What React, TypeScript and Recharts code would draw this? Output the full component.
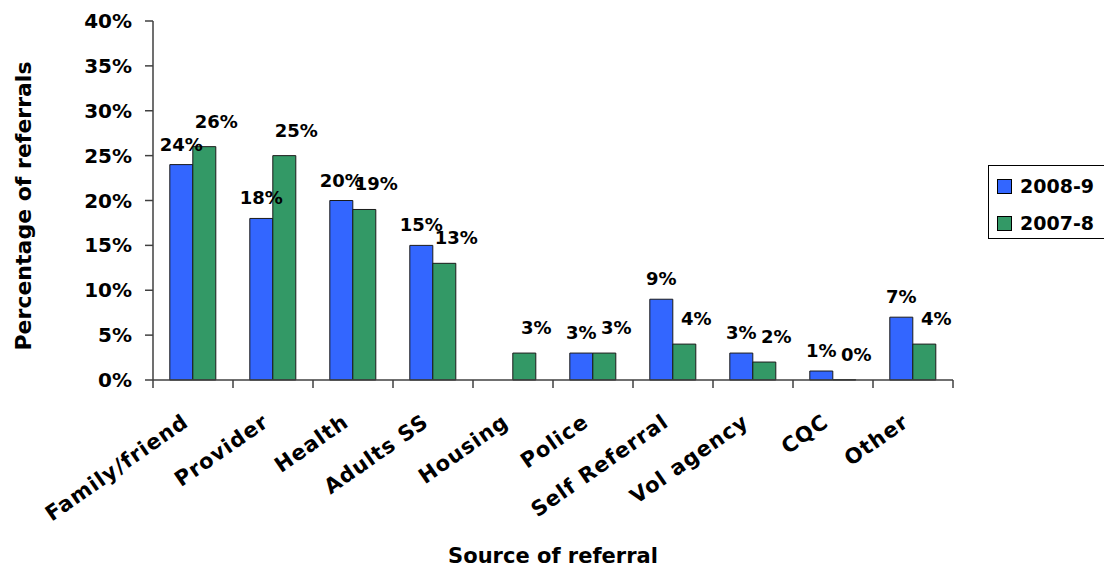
import React from "react";
import {
  BarChart, Bar, XAxis, YAxis, Legend, LabelList, Label
} from "recharts";

const categories = [
  "Family/friend", "Provider", "Health", "Adults SS", "Housing",
  "Police", "Self Referral", "Vol agency", "CQC", "Other",
];
const referrals2008_9: (number | null)[] = [24, 18, 20, 15, null, 3, 9, 3, 1, 7];
const referrals2007_8: (number | null)[] = [26, 25, 19, 13, 3, 3, 4, 2, 0, 4];
const yTicks = [0, 5, 10, 15, 20, 25, 30, 35, 40];

const SERIES = [
  { key: "y2008", name: "2008-9", color: "#3366FF" },
  { key: "y2007", name: "2007-8", color: "#339966" },
];

const data = categories.map((name, i) => ({
  name,
  y2008: referrals2008_9[i],
  y2007: referrals2007_8[i],
}));

const FONT = "'DejaVu Sans', Arial, sans-serif";
const AXIS = "#404040";

// category label plus the tick marks that sit on the category boundaries
const CategoryTick = ({ x, y, payload, index }: any) => {
  const half = payload.offset || 0;
  const tx = x - 3;
  const ty = y + 45;
  return (
    <g>
      <line x1={x - half} x2={x - half} y1={y} y2={y + 8} stroke={AXIS} strokeWidth={1.5} />
      {index === categories.length - 1 && (
        <line x1={x + half} x2={x + half} y1={y} y2={y + 8} stroke={AXIS} strokeWidth={1.5} />
      )}
      <text
        x={tx}
        y={ty}
        transform={`rotate(-35, ${tx}, ${ty})`}
        textAnchor="end"
        fontFamily={FONT}
        fontWeight="bold"
        fontSize={21}
        letterSpacing={1}
        fill="#000"
      >
        {payload.value}
      </text>
    </g>
  );
};

// value labels sit above the bar; the second series is nudged right and up
const valueLabel = (dx: number, lift: number) => (props: any) => {
  const { x, y, width, value } = props;
  if (value == null) return null;
  return (
    <text
      x={x + width / 2 + dx}
      y={y - lift}
      textAnchor="middle"
      fontFamily={FONT}
      fontWeight="bold"
      fontSize={18}
      fill="#000"
    >
      {`${value}%`}
    </text>
  );
};

const LegendBox = () => (
  <div
    style={{
      border: "1px solid #000",
      padding: "9px 0 4px 8px",
      width: 130,
      background: "#fff",
      fontFamily: FONT,
      fontWeight: "bold",
      fontSize: 19,
      lineHeight: "22px",
    }}
  >
    {SERIES.map((s, i) => (
      <div
        key={s.key}
        style={{ display: "flex", alignItems: "center", marginBottom: i === 0 ? 15 : 0 }}
      >
        <span
          style={{
            width: 13, height: 13, background: s.color,
            border: "1px solid #000", marginRight: 8, display: "inline-block",
          }}
        />
        {s.name}
      </div>
    ))}
  </div>
);

export default function App() {
  return (
    <div style={{ position: "absolute", left: 0, top: 0, background: "#fff" }}>
      <BarChart
        width={1104}
        height={568}
        data={data}
        margin={{ top: 21, right: 151, left: 0, bottom: 0 }}
        barCategoryGap="21%"
        barGap={0}
      >
        <XAxis
          dataKey="name"
          height={188}
          interval={0}
          tickSize={0}
          tickMargin={0}
          tickLine={false}
          axisLine={{ stroke: AXIS, strokeWidth: 1.5 }}
          tick={<CategoryTick />}
        >
          <Label
            content={() => (
              <text
                x={553}
                y={563}
                textAnchor="middle"
                fontFamily={FONT}
                fontWeight="bold"
                fontSize={21}
                fill="#000"
              >
                Source of referral
              </text>
            )}
          />
        </XAxis>
        <YAxis
          width={153}
          domain={[0, 40]}
          ticks={yTicks}
          interval={0}
          tickFormatter={(v) => `${v}%`}
          tickSize={8}
          tickMargin={13}
          axisLine={{ stroke: AXIS, strokeWidth: 1.5 }}
          tickLine={{ stroke: AXIS, strokeWidth: 1.5 }}
          tick={{ fontFamily: FONT, fontWeight: "bold", fontSize: 20, fill: "#000" }}
        >
          <Label
            content={() => (
              <text
                x={31}
                y={206}
                transform="rotate(-90, 31, 206)"
                textAnchor="middle"
                fontFamily={FONT}
                fontWeight="bold"
                fontSize={22}
                fill="#000"
              >
                Percentage of referrals
              </text>
            )}
          />
        </YAxis>
        <Legend
          layout="vertical"
          align="center"
          verticalAlign="middle"
          wrapperStyle={{ left: 988, top: 165, width: 130 }}
          content={<LegendBox />}
        />
        <Bar
          dataKey="y2008"
          name="2008-9"
          fill="#3366FF"
          stroke="#1a1a1a"
          strokeWidth={1}
          isAnimationActive={false}
        >
          <LabelList dataKey="y2008" content={valueLabel(0, 14)} />
        </Bar>
        <Bar
          dataKey="y2007"
          name="2007-8"
          fill="#339966"
          stroke="#1a1a1a"
          strokeWidth={1}
          minPointSize={0.3}
          isAnimationActive={false}
        >
          <LabelList dataKey="y2007" content={valueLabel(12, 19)} />
        </Bar>
      </BarChart>
    </div>
  );
}
